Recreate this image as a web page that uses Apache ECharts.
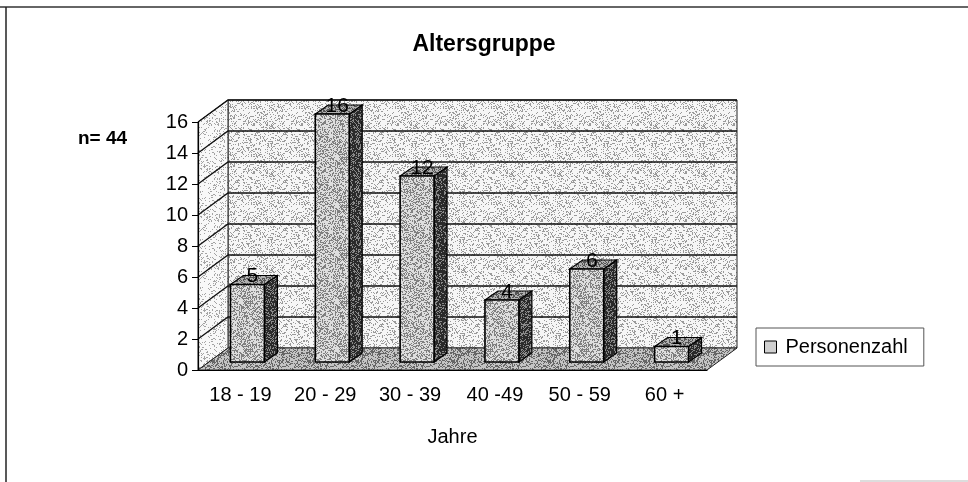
<!DOCTYPE html>
<html>
<head>
<meta charset="utf-8">
<title>Altersgruppe</title>
<script src="https://cdn.jsdelivr.net/npm/echarts@6/dist/echarts.min.js"></script>
<style>
  html, body { margin: 0; padding: 0; background: #fff; }
  #chart { width: 968px; height: 482px; }
</style>
</head>
<body>
<div id="chart"></div>
<script>
// data
const categories = ['18 - 19', '20 - 29', '30 - 39', '40 -49', '50 - 59', '60 +'];
const personen = [5, 16, 12, 4, 6, 1];
const yMin = 0;
const yMax = 16;
const yStep = 2;

const FONT = '"Liberation Sans", Arial, sans-serif';
// depth of the 3d box (back wall offset)
const DX = 30, DY = -22;
// bar front face offset and bar depth
const BAR_SX = 7, BAR_SY = -8, BAR_DX = 13, BAR_DY = -9;

// small stipple textures, like the scanned print
function stipple(base, dot, density, seed) {
  const c = document.createElement('canvas');
  c.width = 48; c.height = 48;
  const ctx = c.getContext('2d');
  ctx.fillStyle = base;
  ctx.fillRect(0, 0, 48, 48);
  ctx.fillStyle = dot;
  for (let y = 0; y < 48; y++) {
    for (let x = 0; x < 48; x++) {
      let h = Math.imul(x + 1, 374761393) + Math.imul(y + 1, 668265263) + Math.imul(seed, 982451653);
      h = Math.imul(h ^ (h >>> 13), 1274126177);
      h = (h ^ (h >>> 16)) & 255;
      if (h / 255 < density) ctx.fillRect(x, y, 1, 1);
    }
  }
  return { image: c, repeat: 'repeat' };
}

const wallFill = stipple('#f6f6f6', '#9a9a9a', 0.22, 1);
const sideFill = stipple('#f8f8f8', '#a4a4a4', 0.18, 2);
const floorFill = stipple('#c4c4c4', '#666666', 0.42, 3);
const frontFill = stipple('#dedede', '#808080', 0.4, 4);
const darkFill = stipple('#2a2a2a', '#8a8a8a', 0.3, 5);
const topFill = stipple('#b0b0b0', '#555555', 0.45, 6);

const chart = echarts.init(document.getElementById('chart'));

function renderWalls(params, api) {
  const cs = params.coordSys;
  const x0 = cs.x, x1 = cs.x + cs.width;
  const yb = cs.y + cs.height, yt = cs.y;
  const children = [];
  // back wall
  children.push({
    type: 'rect',
    shape: { x: x0 + DX, y: yt + DY, width: cs.width, height: cs.height },
    style: { fill: wallFill, stroke: '#222', lineWidth: 1 }
  });
  // left side wall
  children.push({
    type: 'polygon',
    shape: { points: [[x0, yt], [x0 + DX, yt + DY], [x0 + DX, yb + DY], [x0, yb]] },
    style: { fill: sideFill, stroke: '#222', lineWidth: 1 }
  });
  // grid lines on both walls
  for (let v = yMin + yStep; v <= yMax; v += yStep) {
    const y = api.coord([0, v])[1];
    children.push({
      type: 'polyline',
      shape: { points: [[x0, y], [x0 + DX, y + DY], [x1 + DX, y + DY]] },
      style: { stroke: '#111', lineWidth: 1.3, fill: null }
    });
  }
  // floor
  children.push({
    type: 'polygon',
    shape: { points: [[x0, yb], [x1, yb], [x1 + DX, yb + DY], [x0 + DX, yb + DY]] },
    style: { fill: floorFill, stroke: '#222', lineWidth: 1 }
  });
  return { type: 'group', children: children };
}

function renderBar(params, api) {
  const idx = api.value(0);
  const val = api.value(1);
  const top = api.coord([idx, val]);
  const base = api.coord([idx, 0]);
  const bw = api.size([1, 0])[0] * 0.4;
  const cx = top[0] + BAR_SX;
  const xl = cx - bw / 2, xr = cx + bw / 2;
  const yt = top[1] + BAR_SY, yb = base[1] + BAR_SY;
  return {
    type: 'group',
    children: [
      {
        type: 'polygon',
        shape: { points: [[xr, yt], [xr + BAR_DX, yt + BAR_DY], [xr + BAR_DX, yb + BAR_DY], [xr, yb]] },
        style: { fill: darkFill, stroke: '#000', lineWidth: 1.2 }
      },
      {
        type: 'polygon',
        shape: { points: [[xl, yt], [xl + BAR_DX, yt + BAR_DY], [xr + BAR_DX, yt + BAR_DY], [xr, yt]] },
        style: { fill: topFill, stroke: '#000', lineWidth: 1.2 }
      },
      {
        type: 'rect',
        shape: { x: xl, y: yt, width: bw, height: yb - yt },
        style: { fill: frontFill, stroke: '#000', lineWidth: 1.6 }
      },
      {
        type: 'text',
        style: {
          text: String(val), x: cx + 5, y: yt - 8,
          align: 'center', verticalAlign: 'middle',
          font: '21px ' + FONT, fill: '#000'
        }
      }
    ]
  };
}

const option = {
  animation: false,
  backgroundColor: '#fff',
  title: {
    text: 'Altersgruppe',
    left: 'center',
    top: 28,
    textStyle: { fontFamily: FONT, fontSize: 23, fontWeight: 'bold', color: '#000' }
  },
  legend: {
    data: [{ name: 'Personenzahl', icon: 'rect', itemStyle: { color: '#d0d0d0', borderColor: '#000', borderWidth: 1 } }],
    left: 756,
    top: 328,
    itemWidth: 12,
    itemHeight: 12,
    padding: [9, 16, 9, 8],
    borderColor: '#555',
    borderWidth: 1,
    textStyle: { fontFamily: FONT, fontSize: 20, color: '#000', padding: [0, 0, 0, 4] }
  },
  grid: { left: 198, top: 122, width: 509, height: 248 },
  xAxis: {
    type: 'category',
    data: categories,
    z: 10,
    name: 'Jahre',
    nameLocation: 'middle',
    nameGap: 57,
    nameTextStyle: { fontFamily: FONT, fontSize: 20, color: '#000' },
    axisLine: { lineStyle: { color: '#000', width: 1.2 } },
    axisTick: { length: 6, lineStyle: { color: '#000' } },
    axisLabel: { margin: 15, fontFamily: FONT, fontSize: 20, color: '#000' },
    splitLine: { show: false }
  },
  yAxis: {
    type: 'value',
    min: yMin,
    max: yMax,
    interval: yStep,
    z: 10,
    axisLine: { show: true, lineStyle: { color: '#000', width: 1.2 } },
    axisTick: { show: true, length: 6, lineStyle: { color: '#000' } },
    axisLabel: { margin: 10, fontFamily: FONT, fontSize: 20, color: '#000' },
    splitLine: { show: false }
  },
  graphic: [
    { type: 'line', shape: { x1: 0, y1: 7, x2: 968, y2: 7 }, style: { stroke: '#333', lineWidth: 1.5 } },
    { type: 'line', shape: { x1: 6, y1: 7, x2: 6, y2: 482 }, style: { stroke: '#222', lineWidth: 1.5 } },
    { type: 'line', shape: { x1: 860, y1: 481, x2: 968, y2: 481 }, style: { stroke: '#bbb', lineWidth: 1 } },
    {
      type: 'text', left: 78, top: 129,
      style: { text: 'n= 44', font: 'bold 19px ' + FONT, fill: '#000' }
    }
  ],
  series: [
    {
      type: 'custom',
      name: 'walls',
      silent: true,
      z: 1,
      renderItem: renderWalls,
      data: [[0, 0]]
    },
    {
      type: 'custom',
      name: 'Personenzahl',
      z: 3,
      itemStyle: { color: '#d0d0d0' },
      renderItem: renderBar,
      encode: { x: 0, y: 1 },
      data: personen.map((v, i) => [i, v])
    }
  ]
};

chart.setOption(option);
</script>
</body>
</html>
